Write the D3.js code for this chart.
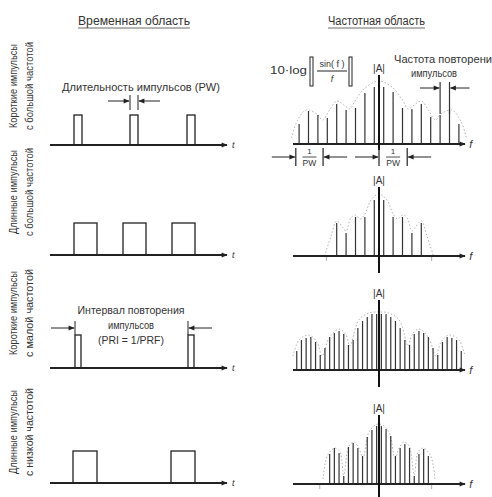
<!DOCTYPE html>
<html>
<head>
<meta charset="utf-8">
<script src="https://cdn.jsdelivr.net/npm/d3@7"></script>
<style>
body{margin:0;background:#fff;}
text{font-family:"Liberation Sans Narrow","Arial Narrow","Liberation Sans",sans-serif;fill:#333;}
</style>
</head>
<body>
<div id="chart"></div>
<script>
// ---- data ----
var headers = ["Временная область", "Частотная область"];
var rowLabels = [
  ["Короткие импульсы", "с большой частотой"],
  ["Длинные импульсы", "с большой частотой"],
  ["Короткие импульсы", "с малой частотой"],
  ["Длинные импульсы", "с низкой частотой"]
];
// time domain, in time units (0..35)
var pulseStarts = [[4.8, 16, 27.4], [4.8, 14.6, 24.4], [5, 27.6], [4.6, 24.2]];
var pulseWidths = [1.6, 4.6, 1.2, 4.8];
var pulseAmp = [30, 32, 33, 32];

// frequency domain: line positions (harmonic units) and amplitudes
var spec1Pos = [-17,-15,-13,-11,-9,-7,-5,-3,-1,1,3,5,7,9,11,13,15,17];
var spec1Amp = [20,33,29,26,40,34,36,51,57,57,52,36,35,40,27,29,33,20];
var spec2Pos = [-9,-7,-5,-3,-1,1,3,5,7,9];
var spec2Amp = [33,23,39,39,56,56,39,39,23,33];
var spec3Pos = [-17.5,-16.5,-15.5,-14.5,-13.5,-12.5,-11.5,-10.5,-9.5,-8.5,-7.5,-6.5,-5.5,-4.5,-3.5,-2.5,-1.5,-0.5,
                0.5,1.5,2.5,3.5,4.5,5.5,6.5,7.5,8.5,9.5,10.5,11.5,12.5,13.5,14.5,15.5,16.5,17.5];
var spec3Amp = [19,30,32,33,28,15,22,33,37,39,36,25,30,42,49,53,56,56,
                56,56,53,49,42,30,25,36,39,37,33,22,15,28,33,32,30,19];
var spec4Pos = [-10.5,-9.5,-8.5,-7.5,-6.5,-5.5,-4.5,-3.5,-2.5,-1.5,-0.5,0.5,1.5,2.5,3.5,4.5,5.5,6.5,7.5,8.5,9.5,10.5];
var spec4Amp = [30,36,31,8,37,41,36,28,47,54,58,58,55,48,28,36,40,36,8,30,35,28];

// dotted envelopes, left half (mirrored for the right)
var env1 = [[-18.6,6],[-17.5,22],[-15.5,34],[-13.2,30],[-12,24],[-10.5,34],[-9,43],[-7.2,38],[-6.2,35],[-5,44],[-3,56],[-1,62],[0,63]];
var env2 = [[-11.6,0],[-10.2,20],[-9,35],[-7.6,28],[-7,25],[-6,38],[-5,41],[-4,37],[-3,42],[-1.7,56],[0,62]];
var env3 = [[-18.3,14],[-17,30],[-14.9,35],[-13.2,28],[-12.1,14],[-10.6,32],[-8.5,41],[-7,35],[-6.2,24],[-4.3,50],[-2.1,57],[0,58]];
var env4 = [[-11.9,5],[-11,28],[-9.4,36],[-8.3,32],[-7.5,9],[-6.4,38],[-5.3,42],[-4.3,36],[-3.4,26],[-2.3,50],[-1.1,58],[0,60]];

var specPos = [spec1Pos, spec2Pos, spec3Pos, spec4Pos];
var specAmp = [spec1Amp, spec2Amp, spec3Amp, spec4Amp];
var envs = [env1, env2, env3, env4];
var nullTicks = [null, [-11.2, 11.2], null, [-12.6, 11.2]];

// ---- layout ----
var w = 492, h = 497;
var timeBase = [145, 255, 368, 483];
var specBase = [144, 256, 370, 484];
var ampTop = [72, 184, 297, 412];
var axisBottom = [150, 273, 387, 497];
var labelMid = [86, 192, 313, 432];

var svg = d3.select("#chart").append("svg")
  .attr("width", w).attr("height", h);
svg.append("rect").attr("width", w).attr("height", h).attr("fill", "#fff");

var defs = svg.append("defs");
defs.append("marker").attr("id", "arr")
  .attr("viewBox", "0 0 10 10").attr("refX", 9).attr("refY", 5)
  .attr("markerWidth", 7).attr("markerHeight", 6)
  .attr("markerUnits", "userSpaceOnUse")
  .attr("orient", "auto")
  .append("path").attr("d", "M0,1L10,5L0,9z").attr("fill", "#222");

var tx = d3.scaleLinear().domain([0, 35]).range([50, 225]);
var fx = d3.scaleLinear().domain([-18, 18]).range([294.4, 463.6]);
var ay = d3.scaleLinear().domain([0, 60]).range([0, 60]);

// headers
var hx = [[78, 190], [328, 425]];
headers.forEach(function(t, i){
  svg.append("text").attr("x", hx[i][0]).attr("y", 25)
    .attr("font-size", 12).attr("textLength", hx[i][1]-hx[i][0])
    .attr("lengthAdjust", "spacingAndGlyphs").text(t);
  svg.append("line").attr("x1", hx[i][0]).attr("x2", hx[i][1])
    .attr("y1", 28).attr("y2", 28).attr("stroke", "#444").attr("stroke-width", 0.8);
});

// row labels (rotated)
rowLabels.forEach(function(lines, r){
  lines.forEach(function(t, j){
    svg.append("text")
      .attr("transform", "translate(" + (17 + j*16) + "," + labelMid[r] + ") rotate(-90)")
      .attr("text-anchor", "middle").attr("font-size", 10.5)
      .attr("textLength", j == 0 ? 84 : 88).attr("lengthAdjust", "spacingAndGlyphs")
      .text(t);
  });
});

// time domain rows
pulseStarts.forEach(function(starts, r){
  var g = svg.append("g");
  var base = timeBase[r];
  g.append("line").attr("x1", tx(0)).attr("x2", tx(35.4))
    .attr("y1", base).attr("y2", base)
    .attr("stroke", "#222").attr("stroke-width", 2)
    .attr("marker-end", "url(#arr)");
  g.append("text").attr("x", tx(36.4)).attr("y", base + 3)
    .attr("font-size", 9).attr("font-style", "italic").text("t");
  g.selectAll("rect").data(starts).enter().append("rect")
    .attr("x", function(d){ return tx(d); })
    .attr("y", base - ay(pulseAmp[r]))
    .attr("width", tx(pulseWidths[r]) - tx(0))
    .attr("height", ay(pulseAmp[r]))
    .attr("fill", "none").attr("stroke", "#222").attr("stroke-width", 1.3);
});

// PW annotation (row 1)
(function(){
  var x0 = tx(pulseStarts[0][1]), x1 = tx(pulseStarts[0][1] + pulseWidths[0]);
  svg.append("text").attr("x", 141).attr("y", 91).attr("text-anchor", "middle")
    .attr("font-size", 10.5).attr("textLength", 158).attr("lengthAdjust", "spacingAndGlyphs")
    .text("Длительность импульсов (PW)");
  [x0, x1].forEach(function(x){
    svg.append("line").attr("x1", x).attr("x2", x).attr("y1", 95).attr("y2", 110)
      .attr("stroke", "#222").attr("stroke-width", 1);
  });
  svg.append("line").attr("x1", x0 - 22).attr("x2", x0 - 1).attr("y1", 101).attr("y2", 101)
    .attr("stroke", "#222").attr("marker-end", "url(#arr)");
  svg.append("line").attr("x1", x1 + 22).attr("x2", x1 + 1).attr("y1", 101).attr("y2", 101)
    .attr("stroke", "#222").attr("marker-end", "url(#arr)");
})();

// PRI annotation (row 3)
(function(){
  var x0 = tx(pulseStarts[2][0]), x1 = tx(pulseStarts[2][1]);
  var t = ["Интервал повторения", "импульсов", "(PRI = 1/PRF)"];
  var tl = [107, 46, 66];
  t.forEach(function(s, i){
    svg.append("text").attr("x", 131).attr("y", 314 + i*15).attr("text-anchor", "middle")
      .attr("font-size", 10.5).attr("textLength", tl[i]).attr("lengthAdjust", "spacingAndGlyphs")
      .text(s);
  });
  [x0, x1].forEach(function(x){
    svg.append("line").attr("x1", x).attr("x2", x).attr("y1", 321).attr("y2", 335)
      .attr("stroke", "#222").attr("stroke-width", 1);
  });
  svg.append("line").attr("x1", x0 - 24).attr("x2", x0 - 1).attr("y1", 328).attr("y2", 328)
    .attr("stroke", "#222").attr("marker-end", "url(#arr)");
  svg.append("line").attr("x1", x1 + 24).attr("x2", x1 + 1).attr("y1", 328).attr("y2", 328)
    .attr("stroke", "#222").attr("marker-end", "url(#arr)");
})();

// frequency domain rows
var envLine = d3.line().curve(d3.curveCatmullRom);
specPos.forEach(function(pos, r){
  var g = svg.append("g");
  var base = specBase[r];
  // envelope
  var half = envs[r];
  var full = half.concat(half.slice(0, -1).reverse().map(function(p){ return [-p[0], p[1]]; }));
  g.append("path")
    .attr("d", envLine(full.map(function(p){ return [fx(p[0]), base - ay(p[1])]; })))
    .attr("fill", "none").attr("stroke", "#aaa").attr("stroke-width", 0.9)
    .attr("stroke-dasharray", "1.5,2");
  // spectral lines
  g.selectAll("line.sp").data(pos).enter().append("line").attr("class", "sp")
    .attr("x1", function(d){ return fx(d); }).attr("x2", function(d){ return fx(d); })
    .attr("y1", base)
    .attr("y2", function(d, i){ return base - ay(specAmp[r][i]); })
    .attr("stroke", "#333").attr("stroke-width", 1.2);
  // baseline
  g.append("line").attr("x1", fx(-18.3)).attr("x2", fx(18.3))
    .attr("y1", base).attr("y2", base)
    .attr("stroke", "#222").attr("stroke-width", 1.8)
    .attr("marker-end", "url(#arr)");
  g.append("text").attr("x", fx(19.2)).attr("y", base + 4)
    .attr("font-size", 11).attr("font-style", "italic").text("f");
  if (nullTicks[r]) {
    nullTicks[r].forEach(function(v){
      g.append("line").attr("x1", fx(v)).attr("x2", fx(v))
        .attr("y1", base + 1).attr("y2", base + 5)
        .attr("stroke", "#999").attr("stroke-width", 0.8);
    });
  }
  // |A| axis
  g.append("line").attr("x1", fx(0)).attr("x2", fx(0))
    .attr("y1", ampTop[r] + 3).attr("y2", axisBottom[r])
    .attr("stroke", "#111").attr("stroke-width", 2);
  g.append("text").attr("x", fx(0)).attr("y", ampTop[r]).attr("text-anchor", "middle")
    .attr("font-size", 10).text("|A|");
});

// formula 10·log |sin(f)/f|
(function(){
  svg.append("text").attr("x", 270).attr("y", 74).attr("font-size", 10)
    .attr("textLength", 37).attr("lengthAdjust", "spacingAndGlyphs").text("10·log");
  [310, 349].forEach(function(x){
    svg.append("rect").attr("x", x).attr("y", 57).attr("width", 3).attr("height", 29)
      .attr("fill", "none").attr("stroke", "#222").attr("stroke-width", 1);
  });
  svg.append("text").attr("x", 332).attr("y", 67).attr("text-anchor", "middle")
    .attr("font-size", 9).text("sin( f )");
  svg.append("line").attr("x1", 317).attr("x2", 347).attr("y1", 71).attr("y2", 71)
    .attr("stroke", "#222").attr("stroke-width", 1);
  svg.append("text").attr("x", 332).attr("y", 82).attr("text-anchor", "middle")
    .attr("font-size", 9).attr("font-style", "italic").text("f");
})();

// PRF annotation
(function(){
  svg.append("text").attr("x", 394).attr("y", 63).attr("font-size", 10.5)
    .attr("textLength", 104).attr("lengthAdjust", "spacingAndGlyphs").text("Частота повторения");
  svg.append("text").attr("x", 434).attr("y", 77).attr("text-anchor", "middle")
    .attr("font-size", 10.5).attr("textLength", 46).attr("lengthAdjust", "spacingAndGlyphs").text("импульсов");
  var a = fx(13), b = fx(15);
  [a, b].forEach(function(x){
    svg.append("line").attr("x1", x).attr("x2", x).attr("y1", 82).attr("y2", specBase[0] - 30)
      .attr("stroke", "#333").attr("stroke-width", 1.2);
  });
  svg.append("line").attr("x1", a - 20).attr("x2", a - 1).attr("y1", 88).attr("y2", 88)
    .attr("stroke", "#222").attr("marker-end", "url(#arr)");
  svg.append("line").attr("x1", b + 20).attr("x2", b + 1).attr("y1", 88).attr("y2", 88)
    .attr("stroke", "#222").attr("marker-end", "url(#arr)");
})();

// 1/PW markers under row 1
var pwMarks = [[-17.7, -11.9], [0, 6]];
pwMarks.forEach(function(m){
  var a = fx(m[0]), b = fx(m[1]), y = 157;
  [a, b].forEach(function(x){
    svg.append("line").attr("x1", x).attr("x2", x).attr("y1", 148).attr("y2", 166)
      .attr("stroke", "#222").attr("stroke-width", 1.2);
  });
  svg.append("text").attr("x", (a + b)/2).attr("y", 154).attr("text-anchor", "middle")
    .attr("font-size", 8).text("1");
  svg.append("line").attr("x1", (a + b)/2 - 7).attr("x2", (a + b)/2 + 7)
    .attr("y1", 157).attr("y2", 157).attr("stroke", "#222").attr("stroke-width", 0.8);
  svg.append("text").attr("x", (a + b)/2).attr("y", 166).attr("text-anchor", "middle")
    .attr("font-size", 8.5).text("PW");
  svg.append("line").attr("x1", a - 24).attr("x2", a - 1).attr("y1", y).attr("y2", y)
    .attr("stroke", "#222").attr("marker-end", "url(#arr)");
  svg.append("line").attr("x1", b + 24).attr("x2", b + 1).attr("y1", y).attr("y2", y)
    .attr("stroke", "#222").attr("marker-end", "url(#arr)");
});
</script>
</body>
</html>
